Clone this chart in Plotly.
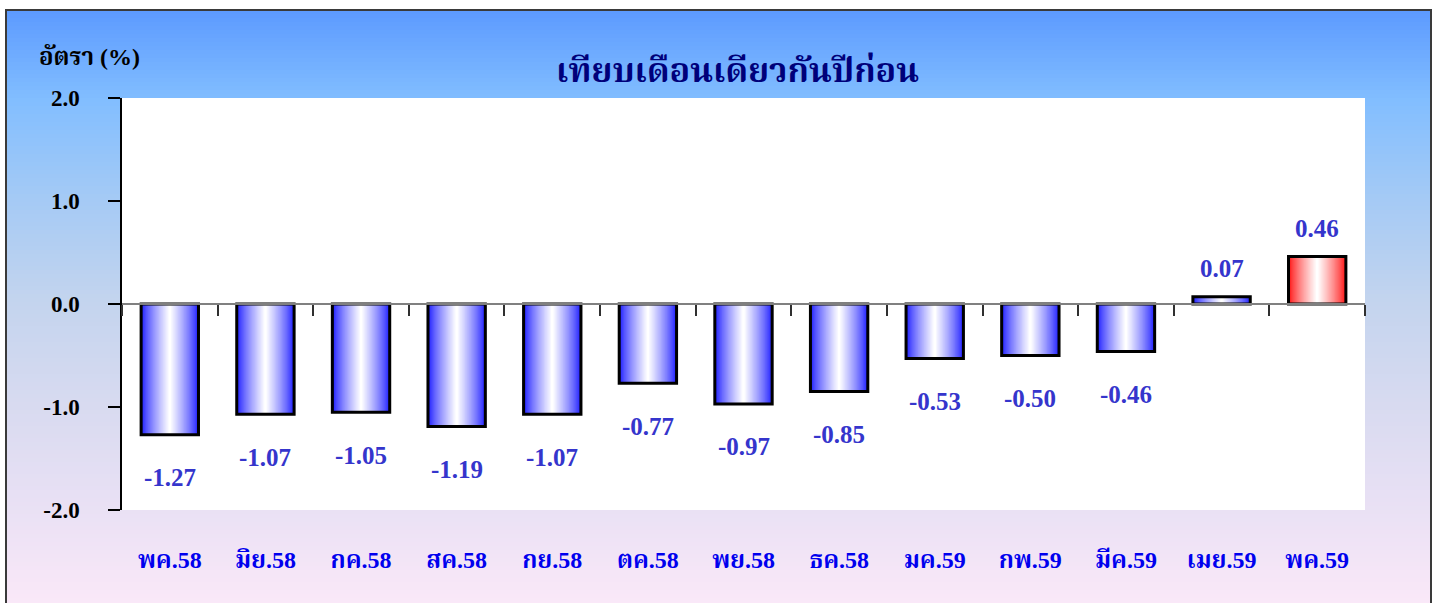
import plotly.graph_objects as go

# ---------------- data ----------------
categories = ["พค.58", "มิย.58", "กค.58", "สค.58", "กย.58", "ตค.58", "พย.58",
              "ธค.58", "มค.59", "กพ.59", "มีค.59", "เมย.59", "พค.59"]
values = [-1.27, -1.07, -1.05, -1.19, -1.07, -0.77, -0.97, -0.85, -0.53, -0.50, -0.46, 0.07, 0.46]
value_labels = ["-1.27", "-1.07", "-1.05", "-1.19", "-1.07", "-0.77", "-0.97",
                "-0.85", "-0.53", "-0.50", "-0.46", "0.07", "0.46"]
y_tickvals = [-2, -1, 0, 1, 2]
y_ticktext = ["-2.0", "-1.0", "0.0", "1.0", "2.0"]
title_text = "เทียบเดือนเดียวกันปีก่อน"
y_title = "อัตรา (%)"
highlight = [False] * 12 + [True]

# ---------------- layout geometry ----------------
W, H = 1438, 603
ML, MR, MT, MB = 122, 73, 98, 93
PW, PH = W - ML - MR, H - MT - MB


def px2x(px):
    return (px - ML) / PW


def py2y(py):
    return (H - MB - py) / PH


def mix(c1, c2, t):
    return tuple(round(a + (b - a) * t) for a, b in zip(c1, c2))


def rgb(c):
    return "rgb(%d,%d,%d)" % c


SERIF = "Liberation Serif, Times New Roman, Noto Serif Thai, Noto Sans Thai, serif"

fig = go.Figure()

# gradient bars built from overlaid bars of decreasing width
BAR_W = 0.6
N = 24
blue_edge = (30, 30, 255)
red_edge = (255, 20, 20)
white = (255, 255, 255)
for k in range(N):
    t = k / (N - 1)
    f = min(1.0, t ** 0.8)
    cols = [rgb(mix(red_edge if h else blue_edge, white, f)) for h in highlight]
    fig.add_trace(go.Bar(
        x=categories, y=values, width=BAR_W * (1 - k / N),
        marker=dict(color=cols, line=dict(width=0)),
        hoverinfo="skip", showlegend=False))

# outline
fig.add_trace(go.Bar(
    x=categories, y=values, width=BAR_W,
    marker=dict(color="rgba(0,0,0,0)", line=dict(color="black", width=3)),
    showlegend=False))

# helper trace for the zero-positioned category axis
fig.add_trace(go.Scatter(x=categories, y=[0] * len(categories), xaxis="x2",
                         mode="markers", marker=dict(opacity=0),
                         hoverinfo="skip", showlegend=False))

# value labels
for c, v, lab in zip(categories, values, value_labels):
    fig.add_annotation(x=c, y=v, text="<b>%s</b>" % lab, showarrow=False,
                       yshift=(-43 if v < 0 else 28), yanchor="middle",
                       font=dict(family=SERIF, size=25, color="#3535CC"))

# background gradient strips
stops = [(10, (92, 154, 255)), (100, (130, 190, 255)), (200, (165, 202, 245)),
         (300, (195, 212, 238)), (400, (215, 218, 240)), (500, (232, 224, 244)),
         (603, (250, 232, 248))]
shapes = []
step = 4
py = 10
while py < 605:
    mid = py + step / 2
    col = stops[-1][1]
    for (a, ca), (b, cb) in zip(stops[:-1], stops[1:]):
        if a <= mid <= b:
            col = mix(ca, cb, (mid - a) / (b - a))
            break
    shapes.append(dict(type="rect", xref="paper", yref="paper", layer="below",
                       x0=px2x(6), x1=px2x(1431), y0=py2y(py + step + 0.5), y1=py2y(py),
                       fillcolor=rgb(col), line=dict(width=0)))
    py += step
# white plot area
shapes.append(dict(type="rect", xref="paper", yref="paper", layer="below",
                   x0=0, x1=1, y0=0, y1=1, fillcolor="white", line=dict(width=0)))
# outer border
shapes.append(dict(type="rect", xref="paper", yref="paper", layer="below",
                   x0=px2x(6), x1=px2x(1431), y0=py2y(606), y1=py2y(10),
                   fillcolor="rgba(0,0,0,0)", line=dict(color="#3a3a3a", width=2)))

fig.update_layout(
    width=W, height=H,
    margin=dict(l=ML, r=MR, t=MT, b=MB, pad=0),
    paper_bgcolor="white", plot_bgcolor="white",
    barmode="overlay", bargap=0.4,
    shapes=shapes,
    xaxis=dict(type="category", range=[-0.5, 12.5], showline=False, ticks="",
               showgrid=False, zeroline=False, ticklabelstandoff=33,
               tickvals=categories, ticktext=["<b>%s</b>" % c for c in categories],
               tickfont=dict(family=SERIF, size=24, color="#0000EE")),
    xaxis2=dict(type="category", range=[-0.5, 12.5], overlaying="x", anchor="free",
                position=0.5, side="bottom", showline=True, linecolor="#808080",
                linewidth=2, ticks="outside", ticklen=11, tickwidth=1.5,
                tickcolor="#303030", tickson="boundaries", showticklabels=False,
                showgrid=False, zeroline=False),
    yaxis=dict(range=[-2, 2], tickvals=y_tickvals, ticktext=["<b>%s</b>" % t for t in y_ticktext],
               showline=True, linecolor="black", linewidth=1.5, ticks="outside",
               ticklen=12, tickwidth=1.5, tickcolor="black", showgrid=False,
               zeroline=False, ticklabelstandoff=24,
               tickfont=dict(family=SERIF, size=23, color="black")),
    annotations=list(fig.layout.annotations) + [
        dict(text="<b>%s</b>" % title_text, xref="paper", yref="paper",
             x=px2x(737), y=py2y(70), showarrow=False, xanchor="center", yanchor="middle",
             font=dict(family=SERIF, size=34, color="#00007A")),
        dict(text="<b>%s</b>" % y_title, xref="paper", yref="paper",
             x=px2x(37), y=py2y(57), showarrow=False, xanchor="left", yanchor="middle",
             font=dict(family=SERIF, size=24, color="black")),
    ],
)

fig.write_html("out.html", post_script="document.body.style.margin='0';",
               config={"displayModeBar": False})
